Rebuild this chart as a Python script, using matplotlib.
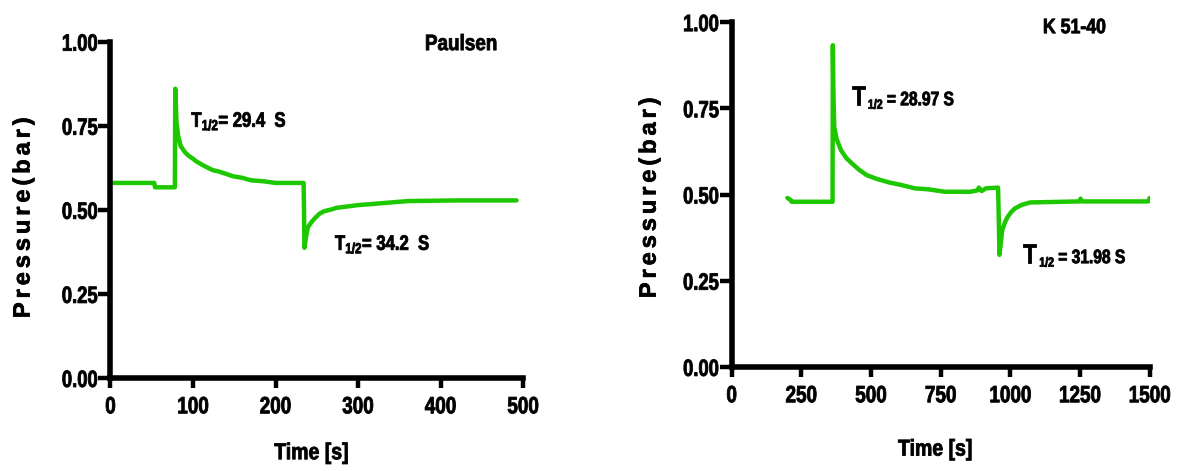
import matplotlib
matplotlib.use('Agg')
import matplotlib.pyplot as plt
from matplotlib import patheffects
from matplotlib.transforms import Affine2D

# Paulsen run (time in s, pressure in bar)
t_paulsen = [0, 53, 54, 78, 78.5, 80, 82, 85, 90, 95, 100, 104, 111, 118, 124, 131, 140,
             148, 160, 170, 185, 200, 234, 234.5, 235, 237, 239, 243, 248, 253, 259,
             266, 274, 287, 300, 330, 360, 420, 492]
p_paulsen = [0.58, 0.58, 0.567, 0.567, 0.86, 0.76, 0.72, 0.69, 0.672, 0.66, 0.652, 0.644,
             0.634, 0.625, 0.618, 0.614, 0.607, 0.60, 0.595, 0.588, 0.585, 0.58, 0.58,
             0.50, 0.387, 0.42, 0.447, 0.462, 0.476, 0.488, 0.496, 0.50, 0.506, 0.51,
             0.514, 0.52, 0.526, 0.528, 0.528]

# K 51-40 run
t_k5140 = [200, 210, 215, 362, 363, 365, 368, 377, 392, 412, 432, 457, 485, 522, 565,
           607, 657, 707, 765, 857, 882, 887, 897, 912, 956, 958, 961, 966, 971, 981,
           991, 1004, 1017, 1041, 1071, 1248, 1252, 1256, 1495, 1500]
p_k5140 = [0.49, 0.485, 0.479, 0.479, 0.933, 0.80, 0.696, 0.66, 0.629, 0.605, 0.59,
           0.572, 0.556, 0.545, 0.535, 0.528, 0.518, 0.515, 0.508, 0.508, 0.512, 0.52,
           0.51, 0.518, 0.52, 0.45, 0.325, 0.36, 0.397, 0.42, 0.436, 0.45, 0.46, 0.47,
           0.477, 0.48, 0.488, 0.48, 0.48, 0.49]

green = '#1ec800'
ylab = '\u2006'.join('Pressure(bar)')

plt.rcParams['font.family'] = ['Liberation Sans', 'DejaVu Sans']
plt.rcParams['font.weight'] = 'bold'
plt.rcParams['axes.labelweight'] = 'bold'
plt.rcParams['mathtext.fontset'] = 'custom'
plt.rcParams['mathtext.bf'] = 'Liberation Sans:bold'
plt.rcParams['mathtext.rm'] = 'Liberation Sans:bold'


class Narrow(patheffects.AbstractPathEffect):
    """Squeeze glyphs sideways (and thicken them a bit) to mimic a condensed bold face."""

    def __init__(self, anchor='left', sx=0.8, lw=0.6):
        super().__init__()
        self.anchor = anchor
        self.sx = sx
        self.lw = lw

    def draw_path(self, renderer, gc, tpath, affine, rgbFace=None):
        ext = tpath.get_extents()
        cx = {'left': 0, 'center': (ext.x0 + ext.x1) / 2, 'right': ext.x1}[self.anchor]
        squeeze = Affine2D().translate(-cx, 0).scale(self.sx, 1).translate(cx, 0)
        gc0 = renderer.new_gc()
        gc0.copy_properties(gc)
        gc0.set_linewidth(self.lw)
        gc0.set_foreground(rgbFace)
        gc0.set_joinstyle('round')
        renderer.draw_path(gc0, tpath, squeeze + affine, rgbFace)
        gc0.restore()


fig = plt.figure(figsize=(11.79, 4.71), dpi=100)
ax1 = fig.add_axes([0.0937, 0.1975, 0.350, 0.714])
ax2 = fig.add_axes([0.6206, 0.221, 0.3545, 0.732])


def style(ax, xmax, xticks, ylab_x, ylab_y, xlab_y):
    for s in ['top', 'right']:
        ax.spines[s].set_visible(False)
    for s in ['left', 'bottom']:
        ax.spines[s].set_linewidth(4)
        ax.spines[s].set_capstyle('projecting')
    ax.set_xlim(0, xmax)
    ax.set_ylim(0, 1.0)
    ax.set_xticks(xticks)
    ax.set_yticks([0, 0.25, 0.5, 0.75, 1.0])
    ax.set_yticklabels(['0.00', '0.25', '0.50', '0.75', '1.00'])
    ax.tick_params(axis='both', width=3.2, direction='out', labelsize=17)
    ax.tick_params(axis='y', length=8.5, pad=0.5)
    ax.tick_params(axis='x', length=7.5, pad=5)
    for lab in ax.get_xticklabels():
        lab.set_path_effects([Narrow('center')])
    for lab in ax.get_yticklabels():
        lab.set_path_effects([Narrow('right', 0.78)])
    ax.set_xlabel('Time [s]', fontsize=16.5, path_effects=[Narrow('center', 0.85)])
    ax.xaxis.set_label_coords(0.487, xlab_y)
    ax.set_ylabel(ylab, fontsize=17,
                  path_effects=[patheffects.withStroke(linewidth=0.5, foreground='black')])
    ax.yaxis.set_label_coords(ylab_x, ylab_y)


ax1.plot(t_paulsen, p_paulsen, color=green, lw=3.2, solid_joinstyle='round', solid_capstyle='round')
style(ax1, 500, [0, 100, 200, 300, 400, 500], -0.184, 0.476, -0.188)
ax1.text(381, 0.975, 'Paulsen', fontsize=16, path_effects=[Narrow(sx=0.85)])
ax1.text(98, 0.747, r'T$_{\mathbf{1/2}}$= 29.4  S', fontsize=15, path_effects=[Narrow()])
ax1.text(272, 0.381, r'T$_{\mathbf{1/2}}$= 34.2  S', fontsize=15, path_effects=[Narrow()])

ax2.plot(t_k5140, p_k5140, color=green, lw=3.2, solid_joinstyle='round', solid_capstyle='round')
style(ax2, 1500, [0, 250, 500, 750, 1000, 1250, 1500], -0.17, 0.49, -0.205)
ax2.text(1117, 0.968, 'K 51-40', fontsize=15, path_effects=[Narrow(sx=0.85)])
for tx, sx_, rx, y, label in [(430, 489, 557, 0.759, '= 28.97 S'),
                              (1045, 1104, 1172, 0.301, '= 31.98 S')]:
    ax2.text(tx, y, 'T', fontsize=20, path_effects=[Narrow()])
    ax2.text(sx_, y - 0.01, '1/2', fontsize=9.5, path_effects=[Narrow()])
    ax2.text(rx, y, label, fontsize=14, path_effects=[Narrow()])

fig.savefig('out.png', dpi=100)
